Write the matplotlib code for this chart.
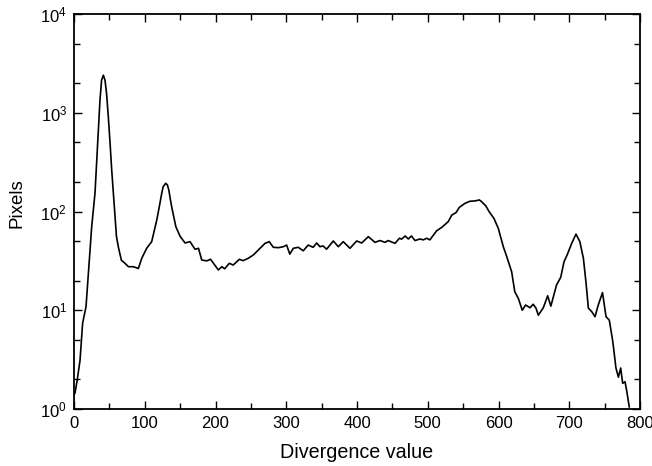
import matplotlib
matplotlib.use("Agg")
import matplotlib.pyplot as plt
from matplotlib.ticker import LogLocator, NullFormatter, MultipleLocator

divergence = [0, 1.4, 4.7, 8.5, 12.2, 17, 20, 25, 29.7, 33, 34.9, 36.7, 39, 41.5, 43.8, 46, 48.5, 51,
              53.3, 55.6, 58, 60, 62.6, 67, 69.7, 77,
              84, 91, 95.7, 102.7, 109.8, 117, 120.6, 124, 126, 129.6, 132, 134, 138, 144, 150, 157,
              164, 171, 176,
              180.5, 187.5, 193, 199, 204, 209, 213, 219.5, 225, 233.7, 239, 246, 253.5, 263, 270,
              276, 281.7, 288.8, 295.8, 300.6, 305, 310, 317, 324, 331, 338, 343, 347.7, 352, 357,
              366.5, 373.6, 380.6, 390, 399.6, 406.6, 416, 425.4, 432.5, 439.6, 444, 453.7, 460,
              463, 468, 472.5, 477, 482, 489, 493.7, 498.5, 503, 508, 512.6, 519.7, 529, 534, 540,
              544.6, 552.6, 559.7, 566.8, 572.9, 576, 582, 587, 593.6, 599.7, 606.8, 611.6, 618.6,
              623, 628, 633.6, 638.3, 644.5, 649, 653, 656.3, 663.3, 669.5, 674, 682, 688, 692.6,
              697, 703.4, 709.5, 715, 720, 723.8, 727, 731.7, 736.4, 741, 747, 752, 756.6, 761,
              762.4, 766, 769.5, 772.7, 775.5, 778.8, 781, 784.8]
pixels = [1.4, 1.45, 2.0, 3.1, 7.4, 10.9, 22, 70, 154, 420, 720, 1340, 2140, 2400, 2140, 1580, 910, 490,
          263, 154, 89, 56, 44, 32, 31, 27.6,
          27.6, 26.5, 33.5, 42.4, 49.5, 82, 112, 153, 178, 193, 186, 165, 112, 70, 56, 48,
          49.5, 41.5, 42.4,
          32.3, 31.6, 32.8, 28.7, 25.6, 27.6, 26.3, 29.9, 28.7, 32.8, 31.8, 33.5, 36.3, 42.4, 47.6,
          49.5, 43.4, 43, 44, 45.7, 37, 42.4, 43.4, 40, 45.7, 43.4, 48, 44, 44.8, 41.5,
          50.3, 44, 49.5, 42.4, 50.3, 48, 55.6, 48.7, 50.8, 48.7, 50.8, 47.6, 53.6,
          52.5, 56.5, 52.7, 56.5, 50.8, 52.7, 51.6, 53.6, 51.6, 57.7, 63.8, 69, 79, 92, 97.5,
          110, 121, 127, 128, 131, 126, 114, 99, 85, 67.5, 44, 35, 24.5,
          15.4, 13.2, 10, 11.3, 10.6, 11.5, 10.5, 8.9, 10.6, 14, 11, 18, 21.6, 31,
          36.3, 47.5, 59, 49.5, 33.5, 18.7, 10.5, 9.7, 8.6, 11.3, 15.1, 8.6, 7.95, 5.1,
          4.3, 2.6, 2.1, 2.6, 1.82, 1.89, 1.56, 1.05]

plt.rcParams['font.family'] = ['Liberation Sans', 'DejaVu Sans']
plt.rcParams['mathtext.fontset'] = 'custom'
plt.rcParams['mathtext.rm'] = 'Liberation Sans'

fig = plt.figure(figsize=(6.52, 4.66), dpi=100)
ax = fig.add_axes([74/652, (466-409)/466, (640-74)/652, (409-14)/466])
ax.plot(divergence, pixels, color='black', linewidth=1.2, solid_joinstyle='round')
ax.set_yscale('log')
ax.set_xlim(0, 800)
ax.set_ylim(1, 1e4)
ax.xaxis.set_major_locator(MultipleLocator(100))
ax.xaxis.set_minor_locator(MultipleLocator(50))
ax.yaxis.set_major_locator(LogLocator(base=10, numticks=10))
ax.yaxis.set_minor_locator(LogLocator(base=10, subs=[2, 5], numticks=10))
ax.yaxis.set_minor_formatter(NullFormatter())
ax.tick_params(which='both', direction='in', top=True, right=True, labelsize=12, width=1.0, pad=5)
ax.tick_params(which='major', length=6)
ax.tick_params(which='minor', length=4)
for s in ax.spines.values():
    s.set_linewidth(1.3)
ax.set_xlabel('Divergence value', fontsize=14.2, labelpad=9)
ax.set_ylabel('Pixels', fontsize=13.5, labelpad=8)
ax.yaxis.set_label_coords(-0.085, 0.52)
fig.savefig('out.png', dpi=100)
